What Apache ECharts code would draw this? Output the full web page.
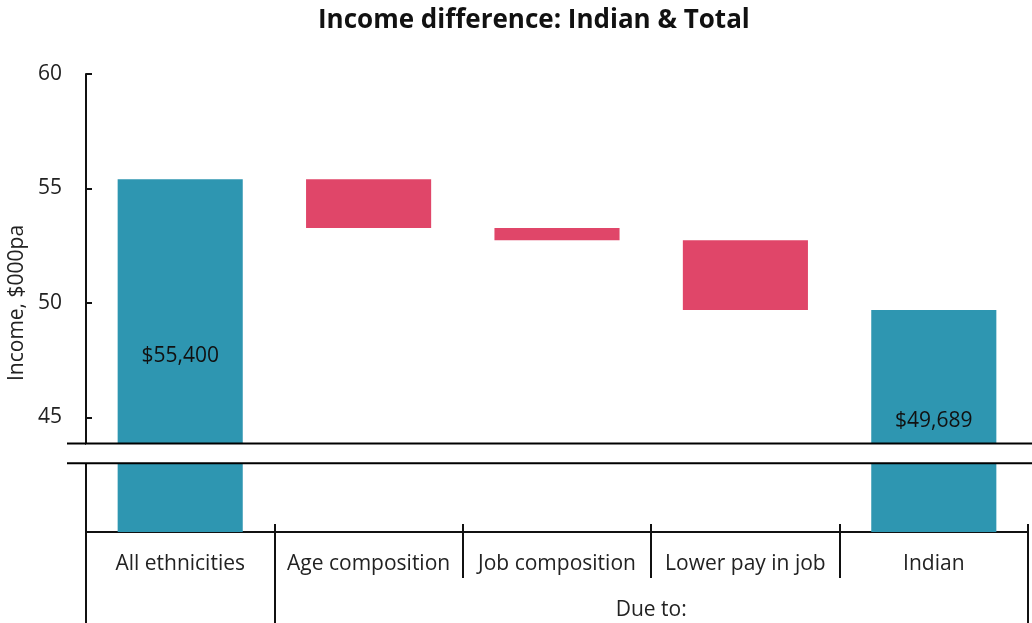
<!DOCTYPE html>
<html>
<head>
<meta charset="utf-8">
<script src="https://cdn.jsdelivr.net/npm/echarts@6/dist/echarts.min.js"></script>
<style>
  html, body { margin: 0; padding: 0; background: #fff; }
  #chart { width: 1032px; height: 623px; }
</style>
</head>
<body>
<div id="chart"></div>
<script>
// income waterfall, $000pa
const categories = ['All ethnicities', 'Age composition', 'Job composition', 'Lower pay in job', 'Indian']
const startIncome = 55.4
const effects = [-2.13, -0.53, -3.051]
const endIncome = 49.689
const totalLabels = ['$55,400', '$49,689']
const yTicks = [45, 50, 55, 60]
const axisBreak = { start: 3, end: 43.86, gap: 0.87 }
const groupLabel = 'Due to:'

const teal = '#2e96b1'
const red = '#e04669'
const font = '"Open Sans", "Noto Sans", sans-serif'

// build invisible base + visible step for the waterfall
const base = [0]
const step = [{ value: startIncome, itemStyle: { color: teal }, label: { show: true, formatter: totalLabels[0] } }]
let level = startIncome
effects.forEach((d) => {
  const next = level + d
  base.push(Math.min(level, next))
  step.push({ value: Math.abs(d), itemStyle: { color: red } })
  level = next
})
base.push(0)
step.push({ value: endIncome, itemStyle: { color: teal }, label: { show: true, formatter: totalLabels[1] } })

const chart = echarts.init(document.getElementById('chart'))
chart.setOption({
  animation: false,
  textStyle: { fontFamily: font },
  title: {
    text: 'Income difference: Indian & Total',
    left: 313,
    top: 3,
    textStyle: { fontFamily: font, fontSize: 26, fontWeight: 'bold', color: '#111' }
  },
  grid: { left: 86, right: 4, top: 74, bottom: 91, outerBoundsMode: 'none', containLabel: false },
  xAxis: [
    {
      type: 'category',
      data: categories,
      position: 'bottom',
      axisLine: { lineStyle: { color: '#111', width: 2 } },
      axisTick: { show: true, interval: 0, length: 46, lineStyle: { color: '#111', width: 2 } },
      axisLabel: { interval: 0, color: '#222', fontSize: 21, margin: 22, fontFamily: font }
    },
    {
      type: 'category',
      data: categories,
      position: 'bottom',
      axisLine: { show: false },
      axisTick: { show: true, inside: true, interval: 0, length: 8, lineStyle: { color: '#111', width: 2 } },
      axisLabel: { show: false }
    },
    {
      type: 'value',
      min: 0,
      max: 5,
      position: 'bottom',
      offset: 46,
      axisLine: { show: false },
      splitLine: { show: false },
      axisTick: { show: true, customValues: [0, 1, 5], length: 46, lineStyle: { color: '#111', width: 2 } },
      axisLabel: { show: true, customValues: [3], formatter: () => groupLabel, color: '#222', fontSize: 21, margin: 22, fontFamily: font }
    }
  ],
  yAxis: {
    type: 'value',
    min: 0,
    max: 60,
    interval: 5,
    name: 'Income, $000pa',
    nameLocation: 'middle',
    nameGap: 54,
    nameTextStyle: { fontSize: 21, color: '#222', fontFamily: font },
    breaks: [axisBreak],
    breakArea: {
      show: true,
      itemStyle: { color: '#fff', borderWidth: 0, opacity: 1 },
      zigzagAmplitude: 0,
      expandOnClick: false
    },
    axisLine: { show: true, lineStyle: { color: '#111', width: 2 } },
    axisTick: { show: true, inside: true, length: 6, customValues: [0].concat(yTicks), lineStyle: { color: '#111', width: 2 } },
    splitLine: { show: false },
    axisLabel: {
      color: '#222',
      fontSize: 21,
      margin: 24,
      fontFamily: font,
      customValues: yTicks
    }
  },
  series: [
    {
      type: 'bar',
      stack: 'wf',
      data: base,
      itemStyle: { color: 'transparent' },
      silent: true,
      barCategoryGap: '33.6%'
    },
    {
      type: 'bar',
      stack: 'wf',
      data: step,
      barCategoryGap: '33.6%',
      label: { show: false, position: 'inside', color: '#111', fontSize: 21, fontFamily: font }
    }
  ]
})

// break marker lines, reaching a little past the plot on both sides
const yTop = chart.convertToPixel({ yAxisIndex: 0 }, axisBreak.end)
const yBottom = chart.convertToPixel({ yAxisIndex: 0 }, axisBreak.start)
chart.setOption({
  graphic: [yTop, yBottom].map((y) => ({
    type: 'line',
    z: 100,
    shape: { x1: 67, y1: y, x2: chart.getWidth(), y2: y },
    style: { stroke: '#000', lineWidth: 2 }
  }))
})
</script>
</body>
</html>
